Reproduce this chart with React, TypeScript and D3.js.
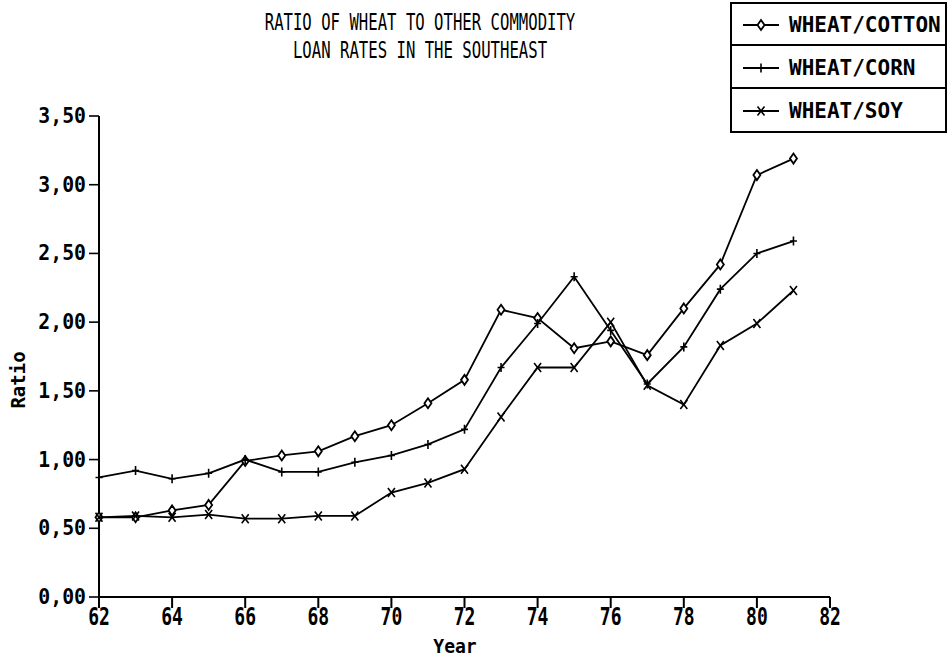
import { useMemo } from "react";
import * as d3 from "d3";

// chart values
const years = [62, 63, 64, 65, 66, 67, 68, 69, 70, 71, 72, 73, 74, 75, 76, 77, 78, 79, 80, 81];
const wheatCotton = [0.58, 0.58, 0.63, 0.67, 0.99, 1.03, 1.06, 1.17, 1.25, 1.41, 1.58, 2.09, 2.03, 1.81, 1.86, 1.76, 2.1, 2.42, 3.07, 3.19];
const wheatCorn = [0.87, 0.92, 0.86, 0.9, 1.0, 0.91, 0.91, 0.98, 1.03, 1.11, 1.22, 1.67, 1.99, 2.33, 1.94, 1.55, 1.82, 2.24, 2.5, 2.59];
const wheatSoy = [0.58, 0.59, 0.58, 0.6, 0.57, 0.57, 0.59, 0.59, 0.76, 0.83, 0.93, 1.31, 1.67, 1.67, 2.0, 1.54, 1.4, 1.83, 1.99, 2.23];
const seriesNames = ["WHEAT/COTTON", "WHEAT/CORN", "WHEAT/SOY"];
const markers = ["diamond", "plus", "cross"];
const xTicks = [62, 64, 66, 68, 70, 72, 74, 76, 78, 80, 82];
const yTicks = [0, 0.5, 1, 1.5, 2, 2.5, 3, 3.5];
const titleLines = ["RATIO OF WHEAT TO OTHER COMMODITY", "LOAN RATES IN THE SOUTHEAST"];

const W = 950;
const H = 662;
const margin = { left: 99, right: 120, top: 116, bottom: 65 };
const FONT = "'DejaVu Sans Mono', monospace";

// horizontally squeezed text, anchored at (x, y)
function Squeezed({ x, y, sx, size, anchor, bold, children }: any) {
  return (
    <text
      transform={`translate(${x},${y}) scale(${sx},1)`}
      textAnchor={anchor}
      fontSize={size}
      fontWeight={bold ? "bold" : "normal"}
    >
      {children}
    </text>
  );
}

function Marker({ kind, x, y }: { kind: string; x: number; y: number }) {
  if (kind === "diamond") {
    return <path d={`M${x},${y - 5}L${x + 3.5},${y}L${x},${y + 5}L${x - 3.5},${y}Z`} fill="white" stroke="black" strokeWidth={1.8} />;
  }
  if (kind === "plus") {
    return <path d={`M${x - 3.5},${y}H${x + 3.5}M${x},${y - 4.5}V${y + 4.5}`} stroke="black" strokeWidth={1.6} />;
  }
  return <path d={`M${x - 3.5},${y - 4.5}L${x + 3.5},${y + 4.5}M${x + 3.5},${y - 4.5}L${x - 3.5},${y + 4.5}`} stroke="black" strokeWidth={1.6} />;
}

export default function App() {
  const x = d3.scaleLinear().domain([62, 82]).range([margin.left, W - margin.right]);
  const y = d3.scaleLinear().domain([0, 3.5]).range([H - margin.bottom, margin.top]);
  const fmt = (v: number) => d3.format(".2f")(v).replace(".", ",");

  const series = useMemo(() => [wheatCotton, wheatCorn, wheatSoy], []);
  const line = d3
    .line<number>()
    .x((_, i) => x(years[i]))
    .y((d) => y(d));

  const y0 = y(0);
  const x0 = x(62);

  return (
    <svg width={W} height={H} style={{ position: "absolute", left: 0, top: 0, background: "white" }} fontFamily={FONT}>
      {/* title */}
      {titleLines.map((t, i) => (
        <Squeezed key={t} x={420} y={30 + i * 28} sx={0.68} size={23} anchor="middle">
          {t}
        </Squeezed>
      ))}

      {/* axes */}
      <line x1={x0} x2={x0} y1={y(3.5)} y2={y0 + 1} stroke="black" strokeWidth={2} />
      <line x1={x0} x2={x(82)} y1={y0} y2={y0} stroke="black" strokeWidth={2} />
      {yTicks.map((t) => (
        <g key={t}>
          <line x1={x0 - 10} x2={x0} y1={y(t)} y2={y(t)} stroke="black" strokeWidth={1.6} />
          <Squeezed x={x0 - 13} y={y(t) + 7} sx={0.9} size={22} anchor="end" bold>
            {fmt(t)}
          </Squeezed>
        </g>
      ))}
      {xTicks.map((t) => (
        <g key={t}>
          <line x1={x(t)} x2={x(t)} y1={y0} y2={y0 + 11} stroke="black" strokeWidth={2} />
          <Squeezed x={x(t)} y={y0 + 28} sx={0.72} size={25} anchor="middle" bold>
            {t}
          </Squeezed>
        </g>
      ))}
      <Squeezed x={455} y={653} sx={0.95} size={19} anchor="middle" bold>Year</Squeezed>
      <text transform={`translate(25,380) rotate(-90)`} textAnchor="middle" fontSize={19} fontWeight="bold">Ratio</text>

      {/* series */}
      {series.map((s, k) => (
        <g key={seriesNames[k]}>
          <path d={line(s) ?? ""} fill="none" stroke="black" strokeWidth={1.8} />
          {s.map((v, i) => (
            <Marker key={i} kind={markers[k]} x={x(years[i])} y={y(v)} />
          ))}
        </g>
      ))}

      {/* legend */}
      <g>
        <rect x={731} y={3} width={215} height={129} fill="white" stroke="black" strokeWidth={2} />
        {seriesNames.map((n, i) => {
          const cy = 24 + i * 43;
          return (
            <g key={n}>
              {i > 0 && <line x1={731} x2={946} y1={cy - 22} y2={cy - 22} stroke="black" strokeWidth={2} />}
              <line x1={743} x2={779} y1={cy + 1} y2={cy + 1} stroke="black" strokeWidth={1.8} />
              <Marker kind={markers[i]} x={761} y={cy + 1} />
              <Squeezed x={789} y={cy + 8} sx={1.0} size={21} anchor="start" bold>
                {n}
              </Squeezed>
            </g>
          );
        })}
      </g>
    </svg>
  );
}
